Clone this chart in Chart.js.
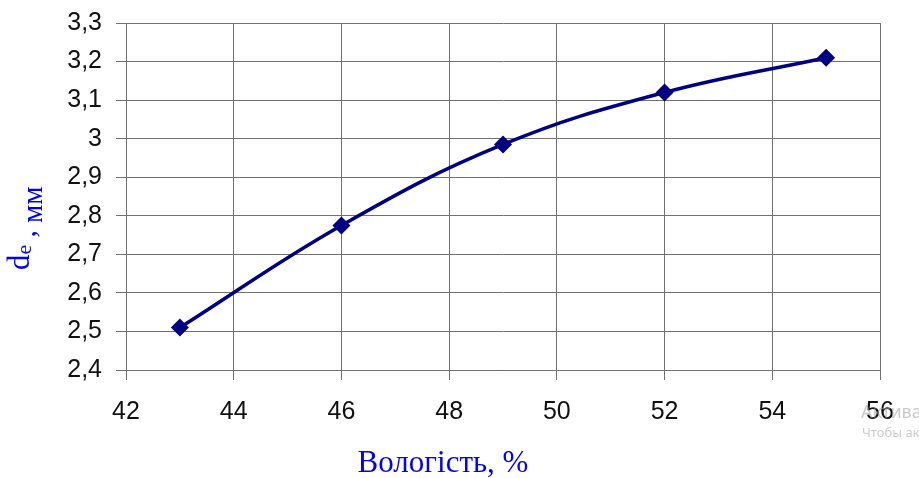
<!DOCTYPE html>
<html>
<head>
<meta charset="utf-8">
<script src="https://cdn.jsdelivr.net/npm/chart.js@4.4.1/dist/chart.umd.min.js"></script>
<style>
  html, body { margin: 0; padding: 0; background: #fff; }
  #wrap { width: 919px; height: 478px; }
</style>
</head>
<body>
<div id="wrap"><canvas id="moistureChart" width="919" height="478"></canvas></div>
<script>
// moisture, % vs equivalent diameter, mm
const moisture = [43, 46, 49, 52, 55];
const diameter = [2.51, 2.775, 2.985, 3.12, 3.21];

const xTicks = [42, 44, 46, 48, 50, 52, 54, 56];
const yTicks = [2.4, 2.5, 2.6, 2.7, 2.8, 2.9, 3.0, 3.1, 3.2, 3.3];
const yTickLabels = ['2,4', '2,5', '2,6', '2,7', '2,8', '2,9', '3', '3,1', '3,2', '3,3'];

const gridColor = '#707070';
const titleColor = '#0000ff';

// axis titles are drawn by hand so the "e" can sit as a subscript
const axisTitles = {
    id: 'axisTitles',
    afterDraw(chart) {
        const ctx = chart.ctx;
        ctx.save();
        ctx.fillStyle = titleColor;
        ctx.textBaseline = 'alphabetic';

        ctx.font = '31px "Liberation Serif"';
        ctx.textAlign = 'center';
        ctx.fillText('Вологість, %', 443, 472);

        ctx.translate(29, 270);
        ctx.rotate(-Math.PI / 2);
        ctx.textAlign = 'left';
        ctx.font = '31px "Liberation Serif"';
        ctx.fillText('d', 0, 0);
        let x = ctx.measureText('d').width;
        ctx.font = '22px "Liberation Serif"';
        ctx.fillText('e', x, 2);
        x += ctx.measureText('e').width;
        ctx.font = '29px "Liberation Serif"';
        ctx.fillText(' ,', x, 6);
        x += ctx.measureText(' , ').width;
        ctx.fillText('мм', x, 13);
        ctx.restore();

        // faint system overlay text at the lower right
        ctx.save();
        ctx.fillStyle = 'rgba(160, 160, 160, 0.55)';
        ctx.textAlign = 'left';
        ctx.font = '18px "Noto Sans"';
        ctx.fillText('Активация Windows', 861, 418);
        ctx.font = '13px "Noto Sans"';
        ctx.fillText('Чтобы активировать Windows', 862, 437);
        ctx.restore();
    }
};

const createMoistureChart = (chartId) => {
    const ctx = document.getElementById(chartId);
    new Chart(ctx, {
        type: 'line',
        data: {
            datasets: [{
                data: moisture.map((m, i) => ({ x: m, y: diameter[i] })),
                borderColor: '#000080',
                backgroundColor: '#000080',
                borderWidth: 3.5,
                tension: 0.4,
                pointStyle: 'rectRot',
                pointRadius: 9,
                pointBorderWidth: 0,
                pointBackgroundColor: '#000080',
            }],
        },
        options: {
            responsive: false,
            animation: false,
            layout: {
                padding: { top: 23, right: 39, left: 0, bottom: 0 },
            },
            plugins: {
                legend: { display: false },
                tooltip: { enabled: false },
            },
            scales: {
                x: {
                    type: 'linear',
                    min: 42,
                    max: 56,
                    afterBuildTicks: (axis) => { axis.ticks = xTicks.map(v => ({ value: v })); },
                    afterFit: (axis) => { axis.height = 108; },
                    grid: { color: gridColor, tickLength: 10 },
                    border: { color: gridColor },
                    ticks: {
                        color: '#111',
                        padding: 17,
                        maxRotation: 0,
                        font: { family: 'Liberation Sans', size: 25 },
                    },
                },
                y: {
                    min: 2.4,
                    max: 3.3,
                    afterBuildTicks: (axis) => { axis.ticks = yTicks.map(v => ({ value: v })); },
                    afterFit: (axis) => {
                        axis.width = 126;
                        axis.paddingTop = 0;
                        axis.paddingBottom = 0;
                    },
                    grid: { color: gridColor, tickLength: 10 },
                    border: { color: gridColor },
                    ticks: {
                        color: '#111',
                        padding: 14,
                        font: { family: 'Liberation Sans', size: 25 },
                        callback: (value, index) => yTickLabels[index],
                    },
                },
            },
        },
        plugins: [axisTitles],
    });
};

createMoistureChart('moistureChart');
</script>
</body>
</html>
